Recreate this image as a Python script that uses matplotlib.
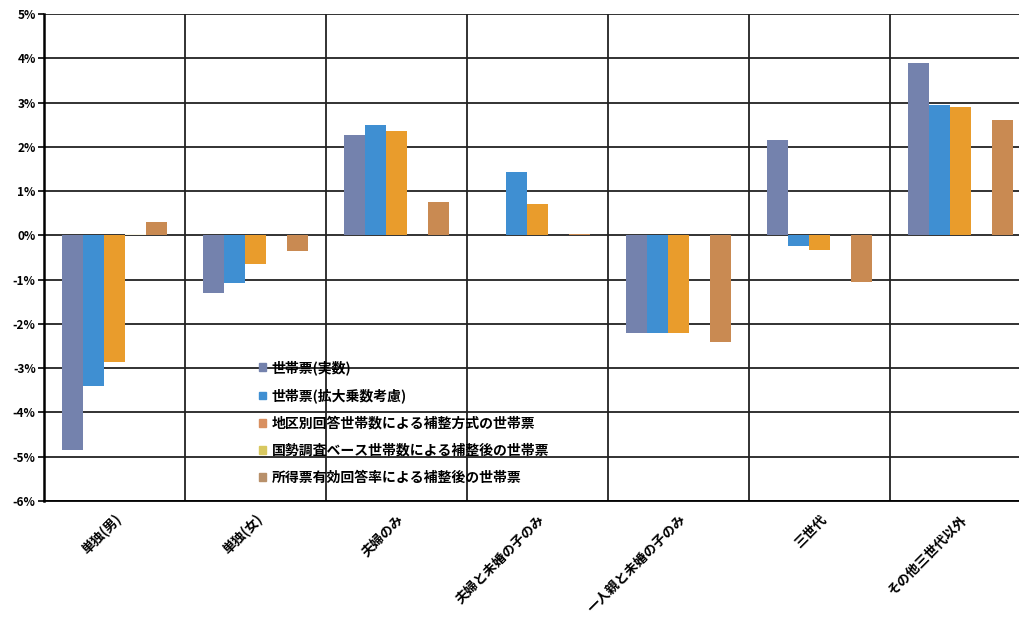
import matplotlib
matplotlib.use("Agg")
import matplotlib.pyplot as plt
import matplotlib.patches as mpatches
from matplotlib.ticker import FixedLocator
import numpy as np

plt.rcParams['font.family'] = ['Noto Sans CJK JP', 'DejaVu Sans']

categories = ['単独(男)', '単独(女)', '夫婦のみ', '夫婦と未婚の子のみ',
              '一人親と未婚の子のみ', '三世代', 'その他三世代以外']

series_names = ['世帯票(実数)', '世帯票(拡大乗数考慮)', '地区別回答世帯数による補整方式の世帯票',
                '国勢調査ベース世帯数による補整後の世帯票', '所得票有効回答率による補整後の世帯票']

# percent values
jissu    = [-4.85, -1.30, 2.27, 0.00, -2.20,  2.15, 3.90]
kakudai  = [-3.40, -1.07, 2.50, 1.43, -2.20, -0.25, 2.95]
chiku    = [-2.85, -0.65, 2.35, 0.70, -2.20, -0.33, 2.90]
kokusei  = [ 0.03,  0.00, 0.00, 0.00,  0.00,  0.00, 0.00]
shotoku  = [ 0.30, -0.35, 0.75, 0.03, -2.40, -1.05, 2.60]

values = [jissu, kakudai, chiku, kokusei, shotoku]
bar_colors = ['#7482ad', '#3f8fd2', '#e99c2c', '#fbf7e6', '#c98a52']
legend_colors = ['#7482ad', '#3f8fd2', '#d99060', '#d8c860', '#b8906a']

fig = plt.figure(figsize=(10.19, 6.31), dpi=100)
ax = fig.add_axes([44/1019, 130/631, 987/1019, 487/631])

x = np.arange(len(categories))
w = 0.15
for i, vals in enumerate(values):
    ax.bar(x + (i - 2) * w, vals, w, color=bar_colors[i], edgecolor='none', zorder=3)

ax.set_xlim(-0.5, len(categories) - 0.5)
ax.set_ylim(-6, 5)
ax.set_yticks(range(-6, 6))
ax.set_yticklabels(['%d%%' % v for v in range(-6, 6)], fontsize=8.5, fontweight='bold')

ax.set_xticks(x)
ax.set_xticklabels(categories, rotation=45, ha='right', rotation_mode='anchor',
                   fontsize=9.5, fontweight='bold')
ax.xaxis.set_minor_locator(FixedLocator(np.arange(0.5, len(categories) - 0.5, 1)))
ax.tick_params(axis='x', which='both', length=0, pad=8)
ax.tick_params(axis='y', length=4, width=1.2, direction='out', pad=2)

ax.grid(axis='y', which='major', color='#222222', linewidth=1.3, zorder=1)
ax.grid(axis='x', which='minor', color='#222222', linewidth=1.3, zorder=1)
ax.set_axisbelow(True)

for s in ['top', 'right']:
    ax.spines[s].set_visible(False)
ax.spines['left'].set_linewidth(1.8)
ax.spines['bottom'].set_linewidth(1.3)

handles = [mpatches.Patch(color=c, label=n) for c, n in zip(legend_colors, series_names)]
leg = ax.legend(handles=handles, loc='upper left', bbox_to_anchor=(0.212, 0.30),
                frameon=False, fontsize=10, handlelength=0.5, handleheight=0.5,
                handletextpad=0.45, labelspacing=0.95, borderaxespad=0)
for t in leg.get_texts():
    t.set_fontweight('bold')

fig.savefig('out.png', dpi=100)
